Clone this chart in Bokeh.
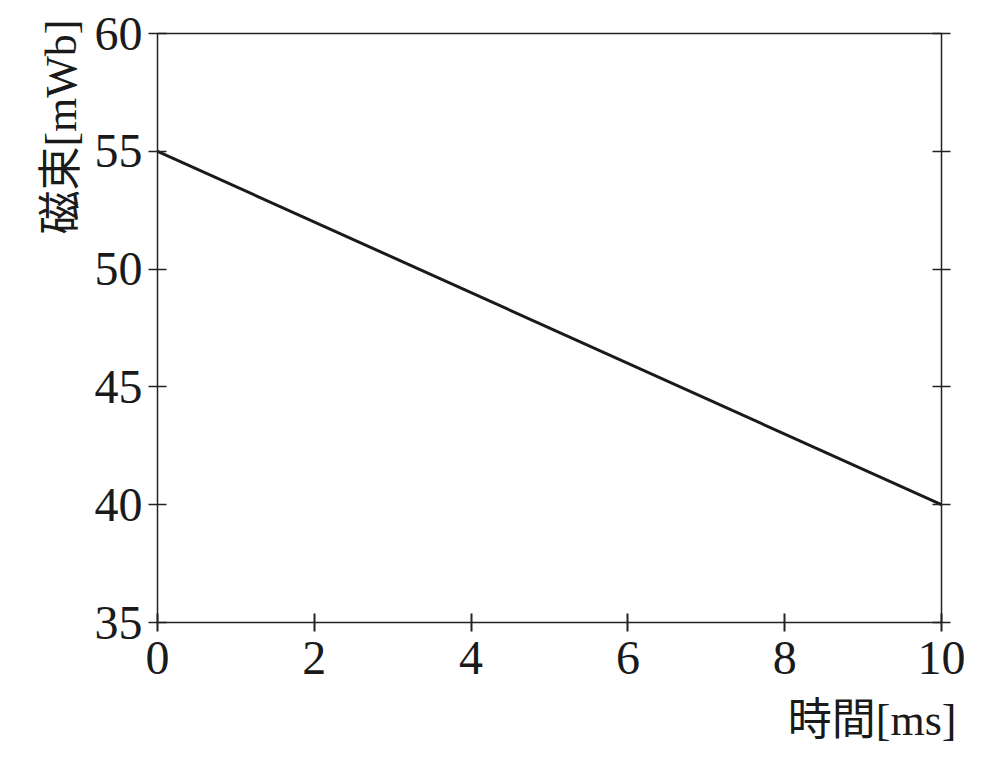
from bokeh.plotting import figure
from bokeh.models import Range1d, LinearAxis, FixedTicker, Title
from bokeh.embed import file_html
from bokeh.resources import INLINE

# Data
time_ms = [0, 10]
flux_mWb = [55, 40]
x_ticks = [0, 2, 4, 6, 8, 10]
y_ticks = [35, 40, 45, 50, 55, 60]
x_label = "時間[ms]"
y_label = "磁束[mWb]"

FONT = "Liberation Serif, Noto Sans CJK JP"
AX_COLOR = "#222222"
TXT = "#1a1a1a"

p = figure(
    frame_width=784, frame_height=589,
    x_range=Range1d(0, 10), y_range=Range1d(35, 60),
    output_backend="svg", toolbar_location=None,
    x_axis_location=None, y_axis_location=None,
    min_border_left=157, min_border_top=33, min_border_right=50, min_border_bottom=135,
    background_fill_color="white", border_fill_color="white",
)
p.outline_line_color = None
p.xgrid.visible = False
p.ygrid.visible = False


def style(ax, ticks, labels=True, tick_len=9):
    ax.ticker = FixedTicker(ticks=ticks)
    ax.axis_line_color = AX_COLOR
    ax.axis_line_width = 1.5
    ax.major_tick_line_color = AX_COLOR
    ax.major_tick_line_width = 1.5
    ax.major_tick_in = tick_len
    ax.major_tick_out = tick_len
    ax.minor_tick_line_color = None
    ax.major_label_text_font = FONT
    ax.major_label_text_font_size = "48px"
    ax.major_label_text_color = TXT
    if not labels:
        ax.major_label_text_font_size = "0px"
        ax.major_label_text_alpha = 0


left = LinearAxis()
style(left, y_ticks)
left.major_label_standoff = 6
p.add_layout(left, "left")

bottom = LinearAxis()
style(bottom, x_ticks)
bottom.major_tick_line_width = 2
bottom.major_label_standoff = 10
p.add_layout(bottom, "below")

right = LinearAxis()
style(right, y_ticks, labels=False)
p.add_layout(right, "right")

top = LinearAxis()
style(top, x_ticks, labels=False, tick_len=0)
top.major_tick_line_color = None
p.add_layout(top, "above")

p.line(time_ms, flux_mWb, line_color=TXT, line_width=3)


def axis_title(text, offset, standoff):
    t = Title(text=text, align="right", offset=offset, text_font=FONT,
              text_font_size="44px", text_font_style="normal", text_color=TXT)
    if hasattr(t, "standoff"):
        t.standoff = standoff
    return t


p.add_layout(axis_title(x_label, -15, 34), "below")
p.add_layout(axis_title(y_label, -14, 12), "left")

open("out.html", "w").write(file_html(p, INLINE))
